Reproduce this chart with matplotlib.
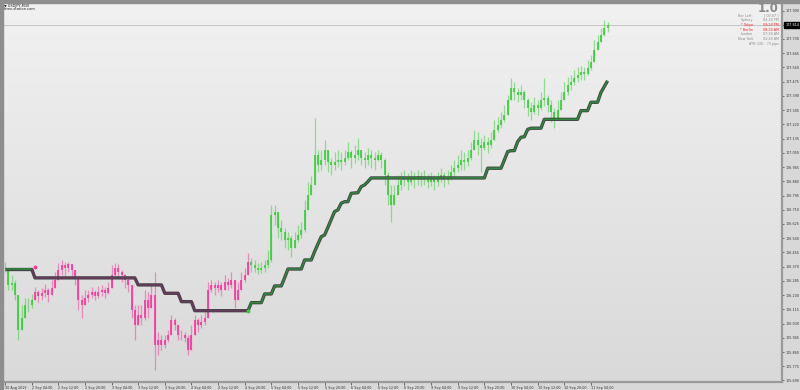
import numpy as np
import matplotlib.pyplot as plt
from matplotlib.colors import LinearSegmentedColormap
from matplotlib.patches import Rectangle
import matplotlib.transforms as mtransforms

# USDJPY M30 chart, sampled hourly (index = hours from 30 Aug 20:00)
close = [106.362, 106.261, 106.273, 106.201, 105.992, 106.064, 106.141, 106.141, 106.171, 106.219,
         106.195, 106.213, 106.231, 106.201, 106.243, 106.291, 106.350, 106.380, 106.362, 106.386,
         106.350, 106.303, 106.171, 106.141, 106.183, 106.201, 106.219, 106.195, 106.219, 106.231,
         106.213, 106.243, 106.320, 106.362, 106.338, 106.320, 106.291, 106.261, 106.111, 106.022,
         106.081, 106.064, 106.171, 106.123, 106.201, 105.902, 105.932, 105.902, 105.932, 105.962,
         106.052, 106.022, 105.962, 105.962, 105.944, 105.872, 105.962, 106.052, 106.022, 106.040,
         106.064, 106.231, 106.261, 106.243, 106.261, 106.231, 106.279, 106.261, 106.291, 106.171,
         106.231, 106.291, 106.320, 106.398, 106.380, 106.362, 106.350, 106.362, 106.380, 106.410,
         106.679, 106.697, 106.601, 106.577, 106.530, 106.541, 106.482, 106.530, 106.559, 106.589,
         106.709, 106.798, 106.858, 107.037, 106.977, 107.007, 107.067, 106.995, 106.977, 106.995,
         107.007, 106.995, 107.019, 107.055, 107.019, 107.037, 107.067, 107.019, 107.007, 107.037,
         107.019, 107.007, 107.037, 107.007, 106.918, 106.798, 106.739, 106.798, 106.858, 106.888,
         106.900, 106.876, 106.906, 106.888, 106.912, 106.888, 106.900, 106.876, 106.900, 106.876,
         106.900, 106.918, 106.888, 106.906, 106.936, 106.960, 106.977, 107.007, 106.995, 107.019,
         107.067, 107.127, 107.097, 107.079, 107.115, 107.097, 107.127, 107.186, 107.216, 107.246,
         107.276, 107.366, 107.437, 107.413, 107.396, 107.413, 107.366, 107.318, 107.294, 107.336,
         107.318, 107.366, 107.378, 107.336, 107.294, 107.246, 107.306, 107.366, 107.413, 107.455,
         107.473, 107.497, 107.515, 107.533, 107.521, 107.557, 107.593, 107.664, 107.712, 107.754,
         107.796, 107.814]

high = [106.398, 106.362, 106.320, 106.291, 106.171, 106.141, 106.183, 106.183, 106.207, 106.249,
        106.231, 106.243, 106.267, 106.243, 106.291, 106.338, 106.392, 106.410, 106.398, 106.398,
        106.386, 106.350, 106.291, 106.201, 106.231, 106.231, 106.249, 106.231, 106.255, 106.261,
        106.249, 106.279, 106.380, 106.392, 106.386, 106.350, 106.326, 106.303, 106.261, 106.141,
        106.141, 106.141, 106.231, 106.219, 106.261, 106.338, 105.980, 105.962, 105.962, 105.992,
        106.081, 106.064, 106.022, 105.992, 105.980, 105.962, 106.022, 106.081, 106.064, 106.081,
        106.099, 106.279, 106.291, 106.279, 106.291, 106.279, 106.320, 106.303, 106.338, 106.279,
        106.279, 106.338, 106.362, 106.452, 106.422, 106.410, 106.392, 106.398, 106.410, 106.470,
        106.739, 106.739, 106.679, 106.649, 106.601, 106.577, 106.559, 106.577, 106.619, 106.637,
        106.768, 106.876, 106.912, 107.258, 107.067, 107.067, 107.127, 107.067, 107.019, 107.055,
        107.067, 107.055, 107.067, 107.115, 107.067, 107.097, 107.139, 107.067, 107.055, 107.079,
        107.067, 107.055, 107.067, 107.055, 107.019, 106.936, 106.858, 106.858, 106.918, 106.936,
        106.948, 106.930, 106.948, 106.936, 106.948, 106.936, 106.948, 106.924, 106.936, 106.918,
        106.936, 106.960, 106.936, 106.948, 106.977, 107.007, 107.037, 107.067, 107.055, 107.067,
        107.115, 107.186, 107.175, 107.139, 107.157, 107.145, 107.175, 107.246, 107.264, 107.294,
        107.336, 107.396, 107.497, 107.473, 107.437, 107.455, 107.425, 107.378, 107.354, 107.384,
        107.366, 107.413, 107.497, 107.396, 107.366, 107.318, 107.366, 107.413, 107.473, 107.503,
        107.515, 107.545, 107.563, 107.569, 107.563, 107.605, 107.635, 107.724, 107.754, 107.796,
        107.844, 107.832]

low = [106.338, 106.231, 106.231, 106.171, 105.932, 105.992, 106.081, 106.099, 106.123, 106.171,
       106.159, 106.171, 106.189, 106.159, 106.201, 106.243, 106.303, 106.320, 106.314, 106.338,
       106.308, 106.261, 106.111, 106.064, 106.147, 106.159, 106.183, 106.171, 106.183, 106.195,
       106.183, 106.207, 106.261, 106.314, 106.303, 106.279, 106.243, 106.219, 106.064, 105.932,
       106.022, 106.022, 106.052, 106.064, 106.141, 105.753, 105.843, 105.872, 105.884, 105.920,
       105.962, 105.992, 105.932, 105.932, 105.920, 105.843, 105.884, 105.992, 105.980, 106.004,
       106.022, 106.064, 106.219, 106.201, 106.219, 106.195, 106.231, 106.231, 106.243, 106.123,
       106.183, 106.231, 106.279, 106.320, 106.338, 106.338, 106.326, 106.332, 106.338, 106.362,
       106.398, 106.619, 106.541, 106.530, 106.482, 106.470, 106.428, 106.482, 106.518, 106.541,
       106.577, 106.739, 106.798, 106.858, 106.936, 106.948, 106.977, 106.936, 106.918, 106.948,
       106.966, 106.948, 106.977, 107.007, 106.960, 106.989, 107.007, 106.977, 106.960, 106.977,
       106.960, 106.948, 107.001, 106.960, 106.858, 106.739, 106.637, 106.739, 106.798, 106.828,
       106.852, 106.828, 106.858, 106.840, 106.858, 106.852, 106.858, 106.840, 106.852, 106.828,
       106.852, 106.876, 106.846, 106.864, 106.888, 106.912, 106.936, 106.948, 106.948, 106.972,
       107.007, 107.067, 107.037, 106.936, 107.067, 107.049, 107.079, 107.127, 107.175, 107.199,
       107.234, 107.294, 107.378, 107.366, 107.354, 107.366, 107.318, 107.270, 107.246, 107.282,
       107.276, 107.306, 107.330, 107.294, 107.234, 107.199, 107.246, 107.306, 107.366, 107.396,
       107.425, 107.455, 107.473, 107.485, 107.485, 107.515, 107.545, 107.605, 107.664, 107.712,
       107.748, 107.772]

# trailing stop line, one value per hour
stop = ([106.357] * 9 + [106.303] * 31 + [106.261] * 8 + [106.211] * 5 + [106.161] * 4
        + [106.107] * 17 + [106.155] * 4 + [106.207] * 3 + [106.255] * 3 + [106.304]
        + [106.356] * 5 + [106.410] * 3 + [106.460, 106.505, 106.549, 106.559, 106.605, 106.652, 106.699]
        + [106.709, 106.749, 106.758, 106.758, 106.808, 106.810, 106.812, 106.848, 106.858, 106.878]
        + [106.900] * 35 + [106.958] * 5 + [107.007, 107.057, 107.063, 107.063, 107.117, 107.143, 107.146, 107.190]
        + [107.197] * 4 + [107.250] * 11 + [107.302] * 3 + [107.352] * 3 + [107.410, 107.445, 107.480])

down_start, down_end = 9, 73   # bars in the down trend (pink)

x_labels = ["30 Aug 2019", "2 Sep 04:00", "2 Sep 12:00", "2 Sep 20:00", "3 Sep 04:00", "3 Sep 12:00",
            "3 Sep 20:00", "4 Sep 04:00", "4 Sep 12:00", "4 Sep 20:00", "5 Sep 04:00", "5 Sep 12:00",
            "5 Sep 20:00", "6 Sep 04:00", "6 Sep 12:00", "6 Sep 20:00", "9 Sep 04:00", "9 Sep 12:00",
            "9 Sep 20:00", "10 Sep 04:00", "10 Sep 12:00", "10 Sep 20:00", "11 Sep 04:00"]
y_ticks = [105.690, 105.775, 105.860, 105.945, 106.030, 106.115, 106.200, 106.285, 106.370,
           106.455, 106.540, 106.625, 106.710, 106.795, 106.880, 106.965, 107.050, 107.135,
           107.220, 107.305, 107.390, 107.475, 107.560, 107.645, 107.730, 107.815, 107.900]

info_names = ["Bar Left:", "Sydney", "* Tokyo", "* Berlin", "London", "New York"]
info_values = ["[ 00:07 ]", "04:28 PM", "03:28 PM", "08:28 AM", "07:28 AM", "02:28 AM"]
info_red = [False, False, True, True, False, False]
atr_text = "ATR (20):  73 pips"

GREEN = '#38cc38'
PINK = '#f4359b'

close = np.array(close)
high = np.array(high)
low = np.array(low)
stop = np.array(stop)
hours = np.arange(len(close))
opens = np.r_[close[0], close[:-1]]
down = (hours >= down_start) & (hours <= down_end)
colors = np.where(down, PINK, GREEN)

fig = plt.figure(figsize=(8, 3.9), dpi=100)
fig.patch.set_facecolor('#d8d8d8')
ax = fig.add_axes([3 / 800, 8 / 390, 779 / 800, 379 / 390])

xmin, xmax = -0.6, 233.4
ymin, ymax = 105.681, 107.945
ax.set_xlim(xmin, xmax)
ax.set_ylim(ymin, ymax)

# background gradient
grad = np.linspace(0, 1, 256).reshape(-1, 1)
cmap = LinearSegmentedColormap.from_list('bg', ['#d9d9d9', '#f1f1f1'])
ax.imshow(grad, extent=[xmin, xmax, ymin, ymax], origin='lower', aspect='auto', cmap=cmap, zorder=0)

# current price line
ax.axhline(close[-1], color='#c4c4c4', lw=0.7, zorder=1)

# candles
wlo = np.minimum(low, np.minimum(opens, close))
whi = np.maximum(high, np.maximum(opens, close))
ax.vlines(hours, wlo, whi, colors=colors, lw=0.9, alpha=0.5, zorder=2)
ax.vlines(hours, np.minimum(opens, close), np.maximum(opens, close), colors=colors, lw=1.2, zorder=3)

# trailing stop
segs = [(0, down_start - 1, '#2e8a3c'), (down_start - 1, down_end, '#6c3760'), (down_end, len(stop) - 1, '#2e8a3c')]
for a, b, c in segs:
    ax.plot(hours[a:b + 1], stop[a:b + 1], color='#454545', lw=2.4, solid_capstyle='butt', zorder=4)
    ax.plot(hours[a:b + 1], stop[a:b + 1], color=c, lw=1.1, solid_capstyle='butt', zorder=5)
ax.plot(hours[down_start], stop[down_start - 1] + 0.012, 'o', ms=1.8, color=PINK, zorder=6)
ax.plot(hours[down_end], stop[down_end], 'o', ms=1.8, color=GREEN, zorder=6)

# axes styling
for s in ['top', 'left']:
    ax.spines[s].set_visible(False)
for s in ['right', 'bottom']:
    ax.spines[s].set_color('#9a9a9a')
    ax.spines[s].set_linewidth(1.6)

ax.yaxis.tick_right()
ax.set_yticks(y_ticks)
ax.set_yticklabels(["" if abs(v - 107.815) < 1e-6 else f"{v:.3f}" for v in y_ticks])
ax.tick_params(axis='y', length=1.5, width=0.6, color='#555555', labelsize=2.4, pad=0.8, labelcolor='#333333')

ax.set_xticks(hours[::8][:len(x_labels)])
ax.set_xticklabels(x_labels, ha='left')
ax.tick_params(axis='x', length=2.5, width=0.6, color='#555555', labelsize=2.4, pad=0.6, labelcolor='#333333')

# current price tag
tr = mtransforms.blended_transform_factory(ax.transAxes, ax.transData)
ax.text(1.004, close[-1], f"{close[-1]:.3f}", transform=tr, fontsize=2.4, color='white', va='center',
        ha='left', bbox=dict(boxstyle='square,pad=0.25', fc='black', ec='black'), zorder=10, clip_on=False)

# window frame
fig.add_artist(Rectangle((0, 1 - 2.5 / 390), 1, 2.5 / 390, transform=fig.transFigure, color='#8e8e8e'))
fig.add_artist(Rectangle((0, 0), 2.5 / 800, 1, transform=fig.transFigure, color='#8e8e8e'))

# header texts
fig.text(4 / 800, 1 - 5.5 / 390, "\u25BC USDJPY,M30", fontsize=2.5, color='#1a1a1a', va='center')
fig.text(4 / 800, 1 - 9 / 390, "forex-station.com", fontsize=2.5, color='#1a1a1a', va='center')

fig.text(779 / 800, 1 - 8.5 / 390, "1.0", fontsize=8.5, color='#8a8a8a', ha='right', va='center', weight='bold')
for i, (n, v, r) in enumerate(zip(info_names, info_values, info_red)):
    yy = 1 - (15.7 + 4.65 * i) / 390
    col = '#ff2020' if r else '#8c8c8c'
    fig.text(753 / 800, yy, n, fontsize=2.4, color=col, ha='right', va='center')
    fig.text(779 / 800, yy, v, fontsize=2.4, color=col, ha='right', va='center')
fig.text(779 / 800, 1 - 43.5 / 390, atr_text, fontsize=2.4, color='#8c8c8c', ha='right', va='center')

fig.savefig('out.png', dpi=100, facecolor=fig.get_facecolor())
